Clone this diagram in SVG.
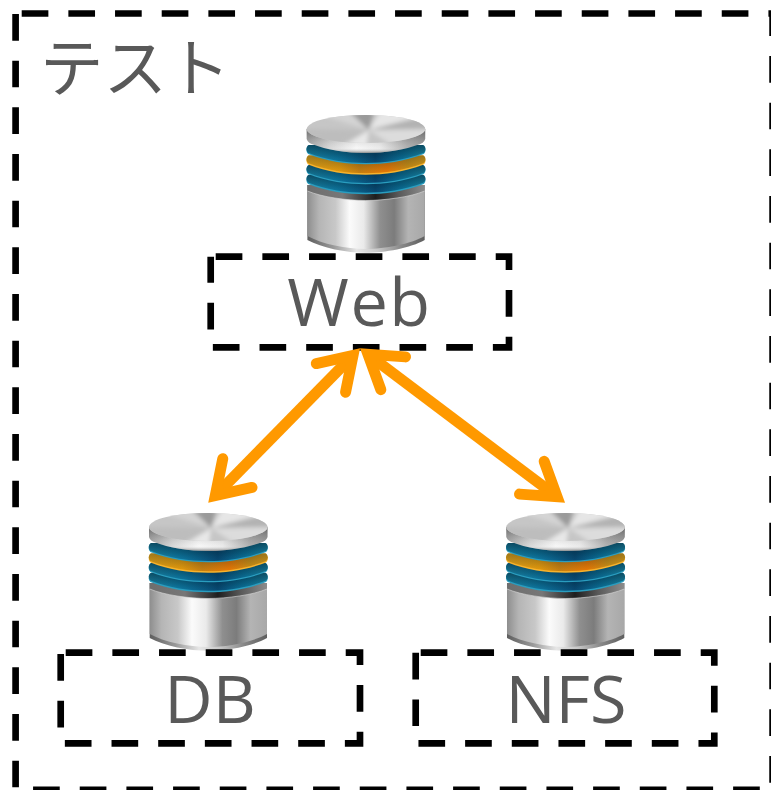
<svg xmlns="http://www.w3.org/2000/svg" xmlns:xlink="http://www.w3.org/1999/xlink" width="771" height="790" viewBox="0 0 771 790">
<style>
.box{fill:none;stroke:#000;stroke-width:6.67;stroke-dasharray:26.67 20;stroke-linejoin:miter}
.lbl{font-family:"Open Sans","Noto Sans","Noto Sans CJK JP",sans-serif;font-size:66.67px;fill:#595959;text-anchor:middle}
.jp{font-family:"Noto Sans CJK JP","Noto Sans",sans-serif;font-size:63.5px;fill:#595959}
.link{fill:none;stroke:#ff9900;stroke-width:11}
</style>
<defs>
<marker id="arrow" markerUnits="userSpaceOnUse" viewBox="-50 -30 70 60" refX="0" refY="0" markerWidth="70" markerHeight="60" orient="auto-start-reverse" overflow="visible">
<path d="M-31.500 -20.500L0 0L-31.500 20.500" fill="none" stroke="#ff9900" stroke-width="11" stroke-linecap="round" stroke-linejoin="miter" stroke-miterlimit="10"/>
</marker>
<linearGradient id="gWall" x1="0" x2="1" y1="0" y2="0">
<stop offset="0" stop-color="#a0a0a0"/><stop offset=".2" stop-color="#d4d4d4"/><stop offset=".42" stop-color="#f6f6f6"/><stop offset=".62" stop-color="#e8e8e8"/><stop offset=".85" stop-color="#a8a8a8"/><stop offset="1" stop-color="#969696"/>
</linearGradient>
<linearGradient id="gWallV" x1="0" x2="0" y1="0" y2="1">
<stop offset="0" stop-color="#333" stop-opacity=".55"/><stop offset=".5" stop-color="#777" stop-opacity=".15"/><stop offset=".8" stop-color="#fff" stop-opacity=".1"/><stop offset="1" stop-color="#444" stop-opacity=".6"/>
</linearGradient>
<linearGradient id="gShade" x1="0" x2="0" y1="0" y2="1">
<stop offset="0" stop-color="#001825" stop-opacity=".6"/><stop offset=".55" stop-color="#001825" stop-opacity=".3"/><stop offset="1" stop-color="#001825" stop-opacity="0"/>
</linearGradient>
<linearGradient id="gBlue" x1="0" x2="1" y1="0" y2="0">
<stop offset="0" stop-color="#1f9dc4"/><stop offset=".25" stop-color="#0f7ea8"/><stop offset=".58" stop-color="#084a74"/><stop offset=".8" stop-color="#0c78a2"/><stop offset="1" stop-color="#20a0c4"/>
</linearGradient>
<linearGradient id="gOrange" x1="0" x2="1" y1="0" y2="0">
<stop offset="0" stop-color="#f8ae14"/><stop offset=".28" stop-color="#e89c0c"/><stop offset=".45" stop-color="#c88010"/><stop offset=".68" stop-color="#ec7a04"/><stop offset=".85" stop-color="#d89614"/><stop offset="1" stop-color="#f4aa14"/>
</linearGradient>
<linearGradient id="gBody" x1="0" x2="1" y1="0" y2="0">
<stop offset="0" stop-color="#8e8e8e"/><stop offset=".1" stop-color="#b5b5b5"/><stop offset=".24" stop-color="#c8c8c8"/><stop offset=".36" stop-color="#fbfbfb"/><stop offset=".48" stop-color="#eaeaea"/><stop offset=".62" stop-color="#8f8f8f"/><stop offset=".74" stop-color="#7c7c7c"/><stop offset=".86" stop-color="#b4b4b4"/><stop offset="1" stop-color="#a8a8a8"/>
</linearGradient>
<linearGradient id="gBand" x1="0" x2="1" y1="0" y2="0">
<stop offset="0" stop-color="#6e6e6e"/><stop offset=".3" stop-color="#777"/><stop offset=".58" stop-color="#1e1e1e"/><stop offset=".78" stop-color="#5a5a5a"/><stop offset="1" stop-color="#8c8c8c"/>
</linearGradient>
<linearGradient id="gRim" x1="0" x2="1" y1="0" y2="0">
<stop offset="0" stop-color="#5e5e5e"/><stop offset=".22" stop-color="#999"/><stop offset=".42" stop-color="#e6e6e6"/><stop offset=".6" stop-color="#c8c8c8"/><stop offset=".8" stop-color="#888"/><stop offset="1" stop-color="#5e5e5e"/>
</linearGradient>
<clipPath id="topClip"><ellipse cx="59.250" cy="14" rx="59.250" ry="14"/></clipPath>
<filter id="soft" x="-20%" y="-20%" width="140%" height="140%"><feGaussianBlur stdDeviation="2.200"/></filter>
<path id="disc" d="M2 -4C-1 -2 -1 2 2 4C20 11 40 14 59 14C78 14 98 11 116.500 4C119.500 2 119.500 -2 116.500 -4Z"/>
<g id="cyl">
<path d="M0.700 70V125C15 133 40 137.800 59 137.800C78 137.800 104 133 118 125V70Z" fill="url(#gRim)"/>
<path d="M0.700 70V121C15 129 40 134 59 134C78 134 104 129 118 121V70Z" fill="url(#gBody)"/>
<path d="M0.700 70V76C15 82 40 85.500 59 85.500C78 85.500 104 82 118 76V70Z" fill="url(#gBand)"/>
<path d="M0.700 76C15 82 40 85.500 59 85.500C78 85.500 104 82 118 76" fill="none" stroke="#d8d8d8" stroke-width=".8" opacity=".8"/>
<use xlink:href="#disc" href="#disc" y="65.300" fill="#2a9dbf"/>
<use xlink:href="#disc" href="#disc" y="63.800" fill="url(#gBlue)"/>
<use xlink:href="#disc" href="#disc" y="63.800" fill="url(#gShade)"/>
<use xlink:href="#disc" href="#disc" y="55.300" fill="#2a9dbf"/>
<use xlink:href="#disc" href="#disc" y="54" fill="url(#gBlue)"/>
<use xlink:href="#disc" href="#disc" y="54" fill="url(#gShade)"/>
<use xlink:href="#disc" href="#disc" y="45.800" fill="#f7b22c"/>
<use xlink:href="#disc" href="#disc" y="44.300" fill="url(#gOrange)"/>
<use xlink:href="#disc" href="#disc" y="44.300" fill="url(#gShade)" opacity=".6"/>
<use xlink:href="#disc" href="#disc" y="35.300" fill="#2a9dbf"/>
<use xlink:href="#disc" href="#disc" y="34" fill="url(#gBlue)"/>
<use xlink:href="#disc" href="#disc" y="34" fill="url(#gShade)"/>
<path d="M0 14V24C1 27 3 28 5 29C20 35 40 38 59 38C78 38 98 35 113.500 29C115.500 28 117.500 27 118.500 24V14Z" fill="url(#gWall)"/>
<path d="M0 14V24C1 27 3 28 5 29C20 35 40 38 59 38C78 38 98 35 113.500 29C115.500 28 117.500 27 118.500 24V14Z" fill="url(#gWallV)"/>
<ellipse cx="59.250" cy="14" rx="59.250" ry="14" fill="#c6c6c6"/>
<g clip-path="url(#topClip)"><g filter="url(#soft)">
<path d="M62 15L-5 -6L60 -6Z" fill="#d4d4d4"/>
<path d="M62 15L40 -6L68 -6Z" fill="#9a9a9a"/>
<path d="M62 15L75 -6L125 -2Z" fill="#e6e6e6"/>
<path d="M62 15L125 0L125 14Z" fill="#b2b2b2"/>
<path d="M62 15L125 14L125 30L85 30Z" fill="#dcdcdc"/>
<path d="M62 15L60 32L35 32Z" fill="#e8e8e8"/>
<path d="M62 15L-5 14L-5 32L30 32Z" fill="#bdbdbd"/>
</g></g>
</g>
</defs>

<g id="group-test">
<path class="box" d="M21.700 13.500H772.600V789.900H15.600V13.500"/>
<text class="jp" x="40" y="91">テスト</text>
</g>

<g id="node-web">
<use xlink:href="#cyl" href="#cyl" x="306.700" y="115"/>
<path class="box" d="M215.700 256.700H509V347.300H210.700V256.700"/>
<text class="lbl" x="359.500" y="326" letter-spacing="1.500">Web</text>
</g>

<g id="node-db">
<use xlink:href="#cyl" href="#cyl" x="149" y="513"/>
<path class="box" d="M65.700 652.700H360V743.300H60.700V652.700"/>
<text class="lbl" x="210" y="722.700">DB</text>
</g>

<g id="node-nfs">
<use xlink:href="#cyl" href="#cyl" x="506.300" y="513"/>
<path class="box" d="M420.700 652.700H714.300V743.300H415.700V652.700"/>
<text class="lbl" x="566" y="722.700">NFS</text>
</g>

<g id="connectors">
<path class="link" d="M353 355.400L215.300 495.600" marker-start="url(#arrow)" marker-end="url(#arrow)"/>
<path class="link" d="M368 354.300L557 496.700" marker-start="url(#arrow)" marker-end="url(#arrow)"/>
</g>
</svg>
